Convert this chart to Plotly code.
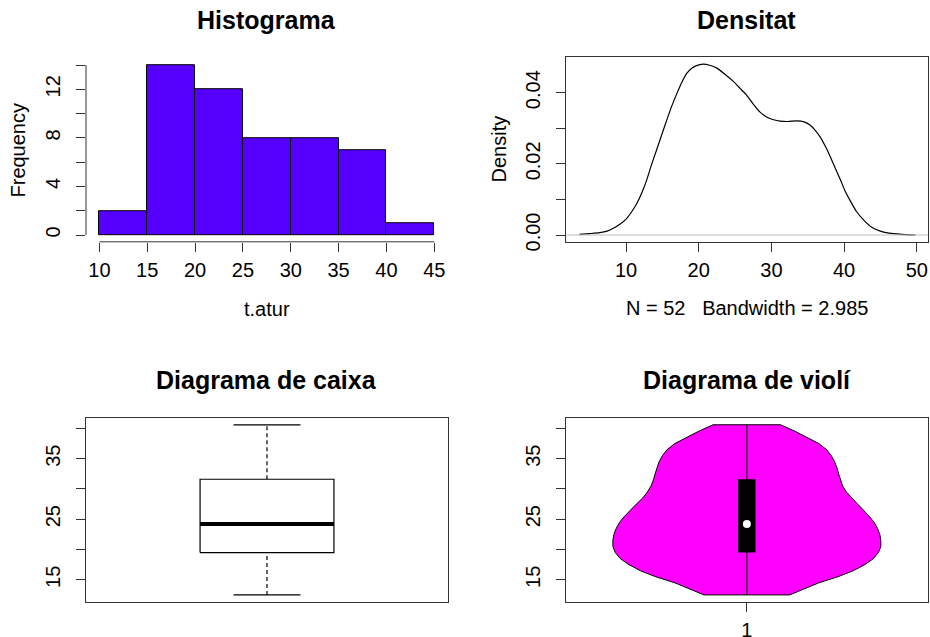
import plotly.graph_objects as go

W, H = 930, 637

# ---------------- data ----------------
# Histogram of t.atur
bin_edges = [10, 15, 20, 25, 30, 35, 40, 45]
counts = [2, 14, 12, 8, 8, 7, 1]
hist_xticks = [10, 15, 20, 25, 30, 35, 40, 45]
hist_yticks = [0, 2, 4, 6, 8, 10, 12, 14]
hist_yticklabels = ["0", "", "4", "", "8", "", "12", ""]

# Kernel density estimate
dens_x = [3.6, 5.0, 6.4, 7.4, 8.25, 9.2, 10.1, 10.8, 11.5, 12.2, 12.85, 13.5, 14.2,
          14.9, 15.6, 16.3, 17.0, 17.7, 18.35, 19.0, 19.7, 20.6, 21.5, 22.5, 23.6,
          24.8, 25.7, 26.5, 27.5, 28.4, 29.4, 30.3, 31.2, 32.3, 33.5, 34.5, 35.3,
          36.0, 36.7, 37.4, 38.1, 38.8, 39.5, 40.1, 40.8, 41.7, 42.7, 43.8, 45.0,
          46.0, 47.3, 48.5, 49.8]
dens_y = [0.0002, 0.0004, 0.00065, 0.0011, 0.0019, 0.0031, 0.0047, 0.0066, 0.0089,
          0.0120, 0.0155, 0.0197, 0.0239, 0.0281, 0.0323, 0.0363, 0.0398, 0.0430,
          0.0454, 0.0468, 0.0476, 0.0480, 0.0477, 0.0469, 0.0452, 0.0431, 0.0412,
          0.0395, 0.0368, 0.0346, 0.0331, 0.0324, 0.0320, 0.0319, 0.0321, 0.0318,
          0.0309, 0.0295, 0.0276, 0.0250, 0.0220, 0.0187, 0.0155, 0.0125, 0.0098,
          0.0066, 0.0042, 0.0022, 0.0011, 0.0006, 0.0003, 0.0001, 0.0]
dens_xticks = [10, 20, 30, 40, 50]
dens_yticks = [0, 0.01, 0.02, 0.03, 0.04]
dens_yticklabels = ["0.00", "", "0.02", "", "0.04"]
dens_n = 52
dens_bw = 2.985

# Box plot statistics: min, Q1, median, Q3, max
box_stats = [12.5, 19.5, 24.2, 31.6, 40.6]
box_yticks = [15, 20, 25, 30, 35, 40]
box_yticklabels = ["15", "", "25", "", "35", ""]

# Violin outline: y values and half-widths
viol_y = [12.5, 13.5, 14.5, 15.5, 16.5, 17.5, 18.5, 19.5, 20.5, 21.5, 22.5, 23.5,
          24.5, 25.5, 26.5, 27.5, 28.5, 29.5, 30.5, 31.5, 32.5, 33.5, 34.5, 35.5,
          36.5, 37.5, 38.5, 39.5, 40.6]
viol_hw = [0.128, 0.172, 0.215, 0.272, 0.318, 0.352, 0.378, 0.393, 0.400, 0.400,
           0.397, 0.390, 0.380, 0.365, 0.348, 0.330, 0.311, 0.297, 0.286, 0.279,
           0.274, 0.269, 0.262, 0.252, 0.238, 0.215, 0.182, 0.145, 0.101]

# ---------------- helpers ----------------
def dom_x(a, b):
    return [a / W, b / W]

def dom_y(top, bottom):
    return [1 - bottom / H, 1 - top / H]

FONT = "Liberation Sans, Arial, Helvetica, sans-serif"
FRAME = "#333333"
TICKFONT = dict(family=FONT, size=20, color="black")

def axis_common(**kw):
    d = dict(ticks="outside", ticklen=9, tickwidth=1, tickcolor=FRAME,
             tickfont=TICKFONT, showgrid=False, zeroline=False,
             ticklabelstandoff=8, automargin=False)
    d.update(kw)
    return d

fig = go.Figure()

# ---- Histogram ----
centers = [(bin_edges[i] + bin_edges[i + 1]) / 2 for i in range(len(counts))]
widths = [bin_edges[i + 1] - bin_edges[i] for i in range(len(counts))]
fig.add_trace(go.Bar(x=centers, y=counts, width=widths, marker=dict(color="#5500FF",
              line=dict(color="black", width=1)), xaxis="x", yaxis="y",
              showlegend=False, hoverinfo="skip"))

# ---- Density ----
fig.add_trace(go.Scatter(x=dens_x, y=dens_y, mode="lines",
                         line=dict(color="black", width=1.2, shape="spline", smoothing=0.6),
                         xaxis="x2", yaxis="y2", showlegend=False, hoverinfo="skip"))

# ---- Box plot ----
mn, q1, med, q3, mx = box_stats
bx0, bx1 = 0.8, 1.2
sx0, sx1 = 0.9, 1.1
fig.add_trace(go.Scatter(x=[bx0, bx1, bx1, bx0, bx0], y=[q1, q1, q3, q3, q1],
                         mode="lines", line=dict(color="black", width=1.2),
                         xaxis="x3", yaxis="y3", showlegend=False, hoverinfo="skip"))
fig.add_trace(go.Scatter(x=[bx0, bx1], y=[med, med], mode="lines",
                         line=dict(color="black", width=4),
                         xaxis="x3", yaxis="y3", showlegend=False, hoverinfo="skip"))
for a, b in [(q3, mx), (mn, q1)]:
    fig.add_trace(go.Scatter(x=[1, 1], y=[a, b], mode="lines",
                             line=dict(color="black", width=1.2, dash="4px,3px"),
                             xaxis="x3", yaxis="y3", showlegend=False, hoverinfo="skip"))
for v in [mn, mx]:
    fig.add_trace(go.Scatter(x=[sx0, sx1], y=[v, v], mode="lines",
                             line=dict(color="black", width=1.2),
                             xaxis="x3", yaxis="y3", showlegend=False, hoverinfo="skip"))

# ---- Violin ----
vx = [1 + w for w in viol_hw] + [1 - w for w in reversed(viol_hw)]
vy = list(viol_y) + list(reversed(viol_y))
vx.append(vx[0]); vy.append(vy[0])
fig.add_trace(go.Scatter(x=vx, y=vy, mode="lines", fill="toself", fillcolor="#FF00FF",
                         line=dict(color="black", width=1),
                         xaxis="x4", yaxis="y4", showlegend=False, hoverinfo="skip"))
fig.add_trace(go.Scatter(x=[1, 1], y=[mn, mx], mode="lines",
                         line=dict(color="black", width=1),
                         xaxis="x4", yaxis="y4", showlegend=False, hoverinfo="skip"))
vb = 0.026
fig.add_trace(go.Scatter(x=[1 - vb, 1 + vb, 1 + vb, 1 - vb, 1 - vb], y=[q1, q1, q3, q3, q1],
                         mode="lines", fill="toself", fillcolor="black",
                         line=dict(color="black", width=0),
                         xaxis="x4", yaxis="y4", showlegend=False, hoverinfo="skip"))
fig.add_trace(go.Scatter(x=[1], y=[med], mode="markers",
                         marker=dict(color="white", size=8, line=dict(width=0)),
                         xaxis="x4", yaxis="y4", showlegend=False, hoverinfo="skip"))

# ---------------- layout ----------------
frame = dict(showline=True, mirror=True, linecolor=FRAME, linewidth=1)
XSO = 1  # x tick label standoff

layout = dict(
    width=W, height=H, margin=dict(l=0, r=0, t=0, b=0, autoexpand=False),
    paper_bgcolor="white", plot_bgcolor="white", bargap=0, showlegend=False,
    font=dict(family=FONT, size=20, color="black"),
    xaxis=axis_common(domain=dom_x(86, 447.7), range=[8.6, 46.4], anchor="y",
                      tickvals=hist_xticks, ticktext=[str(t) for t in hist_xticks],
                      showline=False, ticklabelstandoff=XSO),
    yaxis=axis_common(domain=dom_y(58.2, 241.8), range=[-0.56, 14.56], anchor="x",
                      tickvals=hist_yticks, ticktext=hist_yticklabels, tickangle=-90,
                      showline=False),
    xaxis2=axis_common(domain=dom_x(566, 927.7), range=[1.74, 51.5], anchor="y2",
                       tickvals=dens_xticks, ticktext=[str(t) for t in dens_xticks],
                       ticklabelstandoff=XSO, **frame),
    yaxis2=axis_common(domain=dom_y(57.3, 241.7), range=[-0.00188, 0.04994], anchor="x2",
                       tickvals=dens_yticks, ticktext=dens_yticklabels, tickangle=-90, **frame),
    xaxis3=axis_common(domain=dom_x(86.3, 447.7), range=[0.46, 1.54], anchor="y3",
                       ticks="", showticklabels=False, **frame),
    yaxis3=axis_common(domain=dom_y(418, 601.7), range=[11.38, 41.72], anchor="x3",
                       tickvals=box_yticks, ticktext=box_yticklabels, tickangle=-90, **frame),
    xaxis4=axis_common(domain=dom_x(566, 927.7), range=[0.46, 1.54], anchor="y4",
                       tickvals=[1], ticktext=["1"], ticklabelstandoff=XSO, **frame),
    yaxis4=axis_common(domain=dom_y(418, 601.7), range=[11.38, 41.72], anchor="x4",
                       tickvals=box_yticks, ticktext=box_yticklabels, tickangle=-90, **frame),
)
fig.update_layout(**layout)

# R-style axis lines spanning only the tick range (histogram)
fig.add_shape(type="line", xref="x", yref="y domain", x0=hist_xticks[0], x1=hist_xticks[-1],
              y0=0, y1=0, line=dict(color=FRAME, width=1))
fig.add_shape(type="line", xref="x domain", yref="y", x0=0, x1=0, y0=hist_yticks[0],
              y1=hist_yticks[-1], line=dict(color=FRAME, width=1))
# grey zero line in density panel
fig.add_shape(type="line", xref="x2 domain", yref="y2", x0=0, x1=1, y0=0, y1=0,
              line=dict(color="#BEBEBE", width=1))

def ann(text, px, py, size=20, bold=False, angle=0):
    fig.add_annotation(text=f"<b>{text}</b>" if bold else text, x=px / W, y=1 - py / H,
                       xref="paper", yref="paper", showarrow=False, textangle=angle,
                       xanchor="center", yanchor="middle",
                       font=dict(family=FONT, size=size, color="black"))

ann("Histograma", 266.9, 20, size=25, bold=True)
ann("Densitat", 746.9, 20, size=25, bold=True)
ann("Diagrama de caixa", 266.9, 380, size=25, bold=True)
ann("Diagrama de violí", 746.9, 380, size=25, bold=True)
ann("t.atur", 266.9, 309)
ann(f"N = {dens_n}\u00a0\u00a0\u00a0Bandwidth = {dens_bw}", 746.9, 308)
ann("Frequency", 17.5, 150, angle=-90)
ann("Density", 498, 149.5, angle=-90)

fig.write_html("out.html", config={"displayModeBar": False},
               post_script="document.body.style.margin='0';"
                           "document.body.style.overflow='hidden';")
